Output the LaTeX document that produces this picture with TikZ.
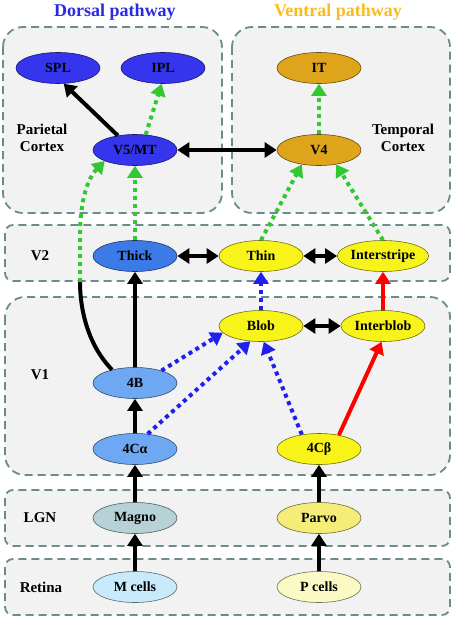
\documentclass[tikz,border=0pt]{standalone}
\usepackage{fontspec}
\setmainfont{Liberation Serif}
\usetikzlibrary{shapes.geometric,arrows.meta}

\definecolor{dorsalblue}{HTML}{2A2AE6}
\definecolor{ventralgold}{HTML}{F9BC1E}
\definecolor{parietal}{HTML}{3535EE}
\definecolor{temporal}{HTML}{DEA41C}
\definecolor{thickblue}{HTML}{3C7AE8}
\definecolor{lightblue}{HTML}{6EA8F2}
\definecolor{blobyellow}{HTML}{F8F41A}
\definecolor{magno}{HTML}{B6D2D6}
\definecolor{parvo}{HTML}{F4EE78}
\definecolor{mcell}{HTML}{C8EAFA}
\definecolor{pcell}{HTML}{FBF9C4}
\definecolor{dotgreen}{HTML}{33C833}
\definecolor{dotblue}{HTML}{2020EE}
\definecolor{boxline}{HTML}{6A8C8C}

\tikzset{
  area/.style={ellipse, draw=#1!45!black, line width=0.6pt, fill=#1,
    minimum width=84pt, minimum height=31pt, inner sep=0pt, font=\bfseries\fontsize{14}{16}\selectfont},
  region/.style={draw=boxline, line width=1.8pt, dash pattern=on 8pt off 5pt, fill=black!5},
  label/.style={font=\bfseries\fontsize{15}{17}\selectfont, align=center},
  tip/.style={-{Triangle[length=12pt,width=15pt]}},
  solid arrow/.style={tip, line width=4pt, black},
  green arrow/.style={tip, line width=4pt, dotgreen, dash pattern=on 4pt off 4pt},
  blue arrow/.style={tip, line width=4pt, dotblue, dash pattern=on 4pt off 4pt},
  red arrow/.style={tip, line width=4pt, red},
  both arrow/.style={{Triangle[length=12pt,width=15pt]}-{Triangle[length=12pt,width=15pt]}, line width=4pt, black}
}

\begin{document}
\begin{tikzpicture}[x=1pt,y=-1pt]
  \useasboundingbox (0,0) rectangle (454,618);

  % Regions
  \draw[region, rounded corners=20pt] (3,27) rectangle (222,213);
  \draw[region, rounded corners=20pt] (232,27) rectangle (450,213);
  \draw[region, rounded corners=8pt] (5,225) rectangle (450,281);
  \draw[region, rounded corners=20pt] (5,297) rectangle (450,475);
  \draw[region, rounded corners=8pt] (5,490) rectangle (450,546);
  \draw[region, rounded corners=8pt] (5,559) rectangle (450,615);

  % Labels
  \node[font=\bfseries\fontsize{18}{20}\selectfont, text=dorsalblue] (dorsal) at (115,12) {Dorsal pathway};
  \node[font=\bfseries\fontsize{18}{20}\selectfont, text=ventralgold] (ventral) at (338,12) {Ventral pathway};
  \node[label] (parietalLbl) at (42,138) {Parietal\\Cortex};
  \node[label] (temporalLbl) at (403,138) {Temporal\\Cortex};
  \node[label] (v2Lbl) at (40,256) {V2};
  \node[label] (v1Lbl) at (40,375) {V1};
  \node[label] (lgnLbl) at (40,518) {LGN};
  \node[label] (retinaLbl) at (41,587) {Retina};

  % Nodes
  \node[area=parietal] (SPL) at (58,68) {SPL};
  \node[area=parietal] (IPL) at (163,68) {IPL};
  \node[area=temporal] (IT) at (319,68) {IT};
  \node[area=parietal] (VMT) at (135,150) {V5/MT};
  \node[area=temporal] (V4) at (319,150) {V4};
  \node[area=thickblue] (Thick) at (135,256) {Thick};
  \node[area=blobyellow] (Thin) at (261,256) {Thin};
  \node[area=blobyellow] (Interstripe) at (383,256) {Interstripe};
  \node[area=blobyellow] (Blob) at (261,326) {Blob};
  \node[area=blobyellow] (Interblob) at (383,326) {Interblob};
  \node[area=lightblue] (FourB) at (135,383) {4B};
  \node[area=lightblue] (FourCa) at (135,449) {4Cα};
  \node[area=blobyellow] (FourCb) at (319,449) {4Cβ};
  \node[area=magno] (Magno) at (135,518) {Magno};
  \node[area=parvo] (Parvo) at (319,518) {Parvo};
  \node[area=mcell] (Mcells) at (135,587) {M cells};
  \node[area=pcell] (Pcells) at (319,587) {P cells};
  \coordinate (bend) at (80,282);

  % Arrows
  \draw[solid arrow] (Mcells) -- (Magno); % retina to LGN
  \draw[solid arrow] (Pcells) -- (Parvo);
  \draw[solid arrow] (Magno) -- (FourCa); % LGN to V1
  \draw[solid arrow] (Parvo) -- (FourCb);
  \draw[solid arrow] (FourCa) -- (FourB);
  \draw[solid arrow] (FourB) -- (Thick);
  \draw[red arrow] (FourCb.35) -- (Interblob.-95);
  \draw[red arrow] (Interblob) -- (Interstripe);
  \draw[blue arrow] (FourB.25) -- (Blob.-170);
  \draw[blue arrow] (FourCa.50) -- (Blob.-125);
  \draw[blue arrow] (FourCb.140) -- (Blob.-80);
  \draw[blue arrow] (Blob) -- (Thin);
  \draw[both arrow] (Blob) -- (Interblob);
  \draw[both arrow] (Thick) -- (Thin);
  \draw[both arrow] (Thin) -- (Interstripe);
  \draw[line width=4pt] (FourB.150) .. controls (88,345) and (80,310) .. (bend); % solid part of the bypass
  \draw[green arrow] (bend) -- (80,235) .. controls (80,200) and (88,178) .. (VMT.-160);
  \draw[green arrow] (Thick) -- (VMT);
  \draw[green arrow] (Thin.north) -- (V4.-140);
  \draw[green arrow] (Interstripe.north) -- (V4.-40);
  \draw[green arrow] (V4) -- (IT);
  \draw[green arrow] (VMT.55) -- (IPL.-95);
  \draw[solid arrow] (VMT.140) -- (SPL.-70);
  \draw[both arrow] (VMT) -- (V4);
\end{tikzpicture}
\end{document}
